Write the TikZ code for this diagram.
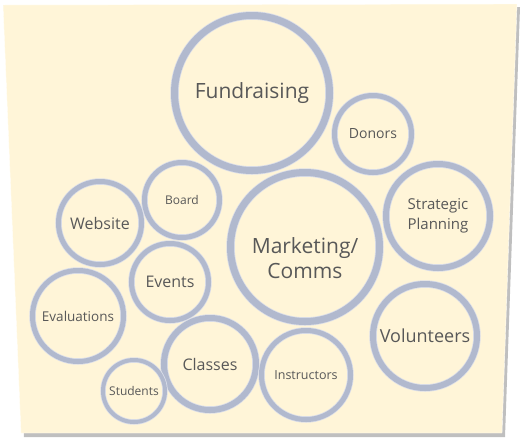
\documentclass[tikz,border=0pt]{standalone}
\usepackage{fontspec}
\setmainfont{Open Sans}
\usepackage{tikz}
\usetikzlibrary{positioning}
\definecolor{paper}{HTML}{FFF5D8}
\definecolor{ring}{HTML}{B1B9CE}
\definecolor{ink}{HTML}{585858}
\tikzset{bubble/.style = {draw = ring, shape = circle, inner sep = 0, text = ink,
                          align = center, line width = #1,
                          preaction = {draw = ring!45, line width = #1 + 1.5pt}},
         bubble/.default = 5pt}
\tikzset{sz/.style = {font = \fontsize{#1}{#1}\selectfont}}

\begin{document}
\begin{tikzpicture}[x = 1pt, y = -1pt]
      \useasboundingbox (0, 0) rectangle (525, 440);
      \fill [black!25] (5, 8) -- (520, 7) -- (505, 437) -- (24, 437) -- cycle;
      \fill [paper, draw = white!85!paper] (3, 5) -- (517, 4) -- (502, 433) -- (21, 433) -- cycle;

      \node (fund) [bubble = 7pt, minimum size = 155, sz = 21] at (252, 93) {Fundraising};
      \node (donors) [bubble, minimum size = 77, sz = 14] at (373, 134) {Donors};
      \node (strat) [bubble = 6pt, minimum size = 104, sz = 15] at (438, 216) {Strategic\\[5pt]Planning};
      \node (mkt) [bubble = 7pt, minimum size = 149,
                   label = {[sz = 21, text = ink, align = center, yshift = -11]center:Marketing/\\[4pt]Comms}] at (305, 247) {};
      \node (vol) [bubble = 6pt, minimum size = 104, sz = 18] at (425, 336) {Volunteers};
      \node (board) [bubble, minimum size = 75, sz = 12] at (182, 200) {Board};
      \node (web) [bubble, minimum size = 83, sz = 16] at (100, 223) {Website};
      \node (events) [bubble, minimum size = 77, sz = 16] at (170, 282) {Events};
      \node (eval) [bubble, minimum size = 91, sz = 13.5] at (78, 316) {Evaluations};
      \node (classes) [bubble = 6pt, minimum size = 92, sz = 16] at (210, 364) {Classes};
      \node (students) [bubble = 4pt, minimum size = 62, sz = 12] at (134, 391) {Students};
      \node (instr) [bubble, minimum size = 89, sz = 12.5] at (306, 375) {Instructors};
    \end{tikzpicture}
\end{document}
